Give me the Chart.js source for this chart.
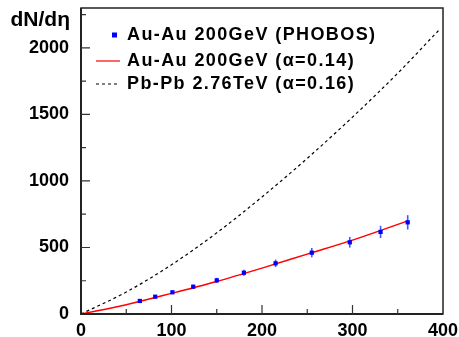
<!DOCTYPE html>
<html>
<head>
<meta charset="utf-8">
<script src="https://cdn.jsdelivr.net/npm/chart.js@4/dist/chart.umd.min.js"></script>
<style>
  body { margin: 0; background: #fff; }
  #wrap { width: 459px; height: 337px; }
</style>
</head>
<body>
<div id="wrap"><canvas id="myChart" width="459" height="337"></canvas></div>
<script>
// PHOBOS Au-Au 200GeV points
const nPart = [65, 82, 101, 124, 150, 180, 215, 255, 297, 331, 361];
const dNdEta = [98, 130, 163, 205, 253, 310, 381, 461, 539, 617, 689];
const dNdEtaErr = [8, 10, 12, 15, 19, 23, 28, 35, 40, 46, 54];

// Au-Au 200GeV curve (alpha=0.14)
const auNpart = [0, 50, 100, 150, 200, 250, 300, 361];
const auCurve = [0, 70, 155, 245, 345, 450, 555, 700];

// Pb-Pb 2.76TeV curve (alpha=0.16)
const pbNpart = [0, 50, 100, 150, 200, 250, 300, 350, 395];
const pbCurve = [0, 165, 370, 610, 880, 1170, 1480, 1810, 2130];

const xTicks = [0, 100, 200, 300, 400];
const yTicks = [0, 500, 1000, 1500, 2000];

const legendLabels = [
  "Au-Au 200GeV (PHOBOS)",
  "Au-Au 200GeV (\u03b1=0.14)",
  "Pb-Pb 2.76TeV (\u03b1=0.16)"
];
const yTitle = "dN/d\u03b7";

const FONT = "'Liberation Sans', Arial, sans-serif";
const toXY = (xs, ys) => xs.map((x, i) => ({ x: x, y: ys[i] }));

const framePlugin = {
  id: "frame",
  beforeDatasetsDraw(chart) {
    // error bars under the markers
    const ctx = chart.ctx;
    const xs = chart.scales.x;
    const ys = chart.scales.y;
    ctx.save();
    ctx.strokeStyle = "#3b5bff";
    ctx.lineWidth = 1.6;
    nPart.forEach((n, i) => {
      const px = xs.getPixelForValue(n);
      ctx.beginPath();
      ctx.moveTo(px, ys.getPixelForValue(dNdEta[i] - dNdEtaErr[i]));
      ctx.lineTo(px, ys.getPixelForValue(dNdEta[i] + dNdEtaErr[i]));
      ctx.stroke();
    });
    ctx.restore();
  },
  afterDraw(chart) {
    const ctx = chart.ctx;
    const a = chart.chartArea;
    const xs = chart.scales.x;
    const ys = chart.scales.y;
    ctx.save();
    ctx.strokeStyle = "#222";
    ctx.lineWidth = 1.5;
    ctx.strokeRect(a.left, a.top, a.right - a.left, a.bottom - a.top);
    ctx.lineWidth = 2;
    ctx.beginPath();
    ctx.moveTo(a.left, a.top);
    ctx.lineTo(a.left, a.bottom);
    ctx.lineTo(a.right, a.bottom);
    ctx.stroke();

    // inward ticks
    ctx.lineWidth = 1.2;
    ctx.strokeStyle = "#333";
    ctx.beginPath();
    for (let v = 50; v < 400; v += 50) {
      const px = xs.getPixelForValue(v);
      const len = v % 100 === 0 ? 9 : 5;
      ctx.moveTo(px, a.bottom);
      ctx.lineTo(px, a.bottom - len);
    }
    for (let v = 250; v < 2300; v += 250) {
      const py = ys.getPixelForValue(v);
      const len = v % 500 === 0 ? 9 : 5;
      ctx.moveTo(a.left, py);
      ctx.lineTo(a.left + len, py);
    }
    ctx.stroke();

    // y title
    ctx.fillStyle = "#000";
    ctx.font = "bold 21px " + FONT;
    ctx.textAlign = "right";
    ctx.textBaseline = "middle";
    ctx.fillText(yTitle, 70, 20);

    // legend
    const rows = [35, 61, 84];
    ctx.font = "bold 18px " + FONT;
    ctx.letterSpacing = "1.4px";
    ctx.textAlign = "left";
    legendLabels.forEach((t, i) => ctx.fillText(t, 127, rows[i]));
    ctx.letterSpacing = "0px";
    ctx.fillStyle = "#0000ff";
    ctx.fillRect(112, rows[0] - 2.5, 5, 5);
    ctx.strokeStyle = "#ff0000";
    ctx.lineWidth = 1.2;
    ctx.beginPath();
    ctx.moveTo(96, rows[1]);
    ctx.lineTo(120, rows[1]);
    ctx.stroke();
    ctx.strokeStyle = "#000";
    ctx.setLineDash([3, 3]);
    ctx.beginPath();
    ctx.moveTo(96, rows[2]);
    ctx.lineTo(120, rows[2]);
    ctx.stroke();
    ctx.restore();
  }
};

new Chart(document.getElementById("myChart"), {
  type: "scatter",
  data: {
    datasets: [
      {
        label: legendLabels[0],
        data: toXY(nPart, dNdEta),
        backgroundColor: "#0000ff",
        borderColor: "#0000ff",
        pointStyle: "rect",
        pointRadius: 3,
        borderWidth: 0
      },
      {
        label: legendLabels[1],
        data: toXY(auNpart, auCurve),
        showLine: true,
        borderColor: "#ff0000",
        borderWidth: 1.5,
        pointRadius: 0,
        cubicInterpolationMode: "monotone"
      },
      {
        label: legendLabels[2],
        data: toXY(pbNpart, pbCurve),
        showLine: true,
        borderColor: "#000",
        borderWidth: 1.2,
        borderDash: [3, 3],
        pointRadius: 0,
        cubicInterpolationMode: "monotone"
      }
    ]
  },
  options: {
    responsive: false,
    animation: false,
    layout: { padding: { left: 0, right: 16, top: 8, bottom: 0 }, autoPadding: false },
    plugins: { legend: { display: false }, tooltip: { enabled: false } },
    scales: {
      x: {
        type: "linear",
        min: 0,
        max: 400,
        afterFit: (s) => { s.height = 23; s.paddingLeft = 0; s.paddingRight = 0; },
        afterBuildTicks: (s) => { s.ticks = xTicks.map((v) => ({ value: v })); },
        grid: { display: false },
        border: { display: false },
        ticks: {
          color: "#000", padding: -2, maxRotation: 0,
          font: { family: FONT, size: 18, weight: "bold" },
          callback: (v) => String(v)
        }
      },
      y: {
        type: "linear",
        min: 0,
        max: 2300,
        afterFit: (s) => { s.width = 81; s.paddingTop = 0; s.paddingBottom = 0; },
        afterBuildTicks: (s) => { s.ticks = yTicks.map((v) => ({ value: v })); },
        grid: { display: false },
        border: { display: false },
        ticks: {
          color: "#000", padding: 4,
          font: { family: FONT, size: 18, weight: "bold" },
          callback: (v) => String(v)
        }
      }
    }
  },
  plugins: [framePlugin]
});
</script>
</body>
</html>
